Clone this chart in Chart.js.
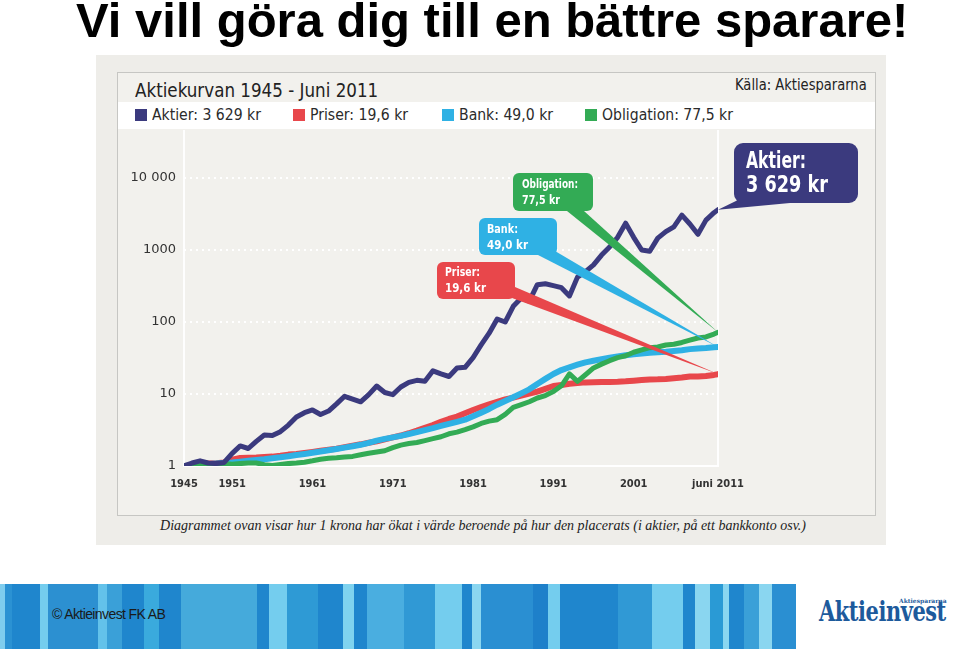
<!DOCTYPE html>
<html>
<head>
<meta charset="utf-8">
<script src="https://cdn.jsdelivr.net/npm/chart.js@4.4.1/dist/chart.umd.min.js"></script>
<style>
  body { margin:0; width:960px; height:649px; position:relative; overflow:hidden; background:#fff; font-family:"Liberation Sans", Arial, sans-serif; }
  .abs { position:absolute; white-space:nowrap; }
  .narrow { font-family:"Liberation Sans Narrow", "DejaVu Sans Condensed", sans-serif; }
  #title { left:76px; top:-4px; font-size:49px; line-height:49px; font-weight:bold; color:#000; }
  #panel { left:96px; top:55px; width:790px; height:490px; background:#eeede9; }
  #inner { left:117px; top:72px; width:757px; height:442px; border:1px solid #c6c6c3; background:#f2f1ed; }
  #legendBand { left:118px; top:102px; width:757px; height:27px; background:#fff; }
  .sq { width:12px; height:12px; top:109px; }
  .lt { top:106px; font-size:15px; line-height:18px; color:#2b2b2b; transform-origin:0 50%; transform:scaleX(1.04); }
  #head { left:135px; top:78px; font-size:20px; line-height:24px; color:#222; transform-origin:0 50%; transform:scaleX(0.93); }
  #source { right:93px; top:75px; font-size:16px; line-height:20px; color:#222; transform-origin:100% 50%; transform:scaleX(0.91); }
  #chart { left:118px; top:129px; }
  #caption { left:0; width:966px; text-align:center; top:516px; font-family:"Liberation Serif", "DejaVu Serif", serif; font-style:italic; font-size:14px; line-height:20px; color:#222; }
  #band { left:0; top:584px; width:796px; height:65px; }
  #copy { left:52px; top:605px; font-size:14px; line-height:18px; color:#1a1a1a; letter-spacing:-0.6px; }
  #logo { left:819px; top:596px; font-family:"DejaVu Serif Condensed", "DejaVu Serif", serif; font-weight:bold; font-size:27px; line-height:32px; color:#1d5a9c; letter-spacing:-0.5px; transform-origin:0 50%; transform:scaleX(0.86); }
  #logoSmall { left:899px; top:597px; font-family:"DejaVu Serif", serif; font-weight:bold; font-size:6px; line-height:8px; color:#1d5a9c; }
</style>
</head>
<body>
<div id="title" class="abs">Vi vill göra dig till en bättre sparare!</div>
<div id="panel" class="abs"></div>
<div id="inner" class="abs"></div>
<div id="legendBand" class="abs"></div>
<div id="head" class="abs narrow">Aktiekurvan 1945 - Juni 2011</div>
<div id="source" class="abs narrow">Källa: Aktiespararna</div>
<div id="legend"></div>
<canvas id="chart" class="abs" width="757" height="371"></canvas>
<div id="caption" class="abs">Diagrammet ovan visar hur 1 krona har ökat i värde beroende på hur den placerats (i aktier, på ett bankkonto osv.)</div>
<div id="band" class="abs"></div>
<div id="copy" class="abs">© Aktieinvest FK AB</div>
<div id="logo" class="abs">Aktieinvest</div>
<div id="logoSmall" class="abs">Aktiespararna</div>
<script>
// years (last point is june 2011)
var years = [1945,1946,1947,1948,1949,1950,1951,1952,1953,1954,1955,1956,1957,1958,1959,1960,1961,1962,1963,1964,
  1965,1966,1967,1968,1969,1970,1971,1972,1973,1974,1975,1976,1977,1978,1979,1980,1981,1982,1983,1984,
  1985,1986,1987,1988,1989,1990,1991,1992,1993,1994,1995,1996,1997,1998,1999,2000,2001,2002,2003,2004,
  2005,2006,2007,2008,2009,2010,2011,2011.5];

var aktier = [1.0,1.1,1.18,1.1,1.08,1.12,1.5,1.9,1.75,2.2,2.7,2.65,3.0,3.7,4.8,5.5,6.0,5.2,5.8,7.3,
  9.3,8.5,7.8,9.8,12.9,10.5,9.8,12.5,14.5,15.5,15,21,19,17.5,23,23.5,32,48,70,110,
  100,165,215,195,330,340,320,300,230,420,500,620,850,1100,1500,2360,1500,1000,960,1460,
  1800,2100,3050,2300,1650,2600,3300,3629];

var priser = [1.0,1.02,1.05,1.08,1.09,1.12,1.22,1.29,1.30,1.31,1.33,1.35,1.39,1.44,1.47,1.52,1.57,1.63,1.68,1.74,
  1.83,1.92,2.0,2.1,2.2,2.35,2.5,2.65,2.85,3.1,3.4,3.7,4.1,4.5,4.85,5.4,6.0,6.6,7.2,7.8,
  8.4,8.9,9.5,10.1,10.8,11.8,12.9,13.3,13.9,14.2,14.5,14.6,14.7,14.7,14.8,15.0,15.3,15.6,15.9,16.0,
  16.2,16.5,16.9,17.5,17.5,17.8,18.4,18.9];

var bank = [1.0,1.02,1.04,1.06,1.08,1.10,1.12,1.15,1.18,1.21,1.24,1.28,1.32,1.37,1.42,1.47,1.53,1.59,1.65,1.72,
  1.80,1.88,1.97,2.1,2.25,2.38,2.5,2.62,2.78,2.95,3.15,3.35,3.6,3.85,4.1,4.4,4.9,5.5,6.2,7.1,
  8.0,9.0,10.2,11.6,13.8,16.2,19.0,21.5,23.5,25.5,27.5,29,30.5,32,33.3,34.5,35.5,36.5,37.5,38,
  38.6,39.5,40.5,42,43,43.5,44.5,45];

var obligation = [1.0,1.02,1.04,1.06,1.07,1.08,1.06,1.08,1.1,1.1,1.04,1.02,1.05,1.08,1.1,1.13,1.18,1.24,1.28,1.3,
  1.33,1.36,1.43,1.5,1.56,1.63,1.8,1.95,2.05,2.12,2.25,2.4,2.55,2.8,2.95,3.2,3.5,3.9,4.2,4.4,
  5.2,6.5,7.1,7.8,8.8,9.5,10.8,13.0,19.0,15.0,18.5,23,26,29,32,34,38,41,44,45,
  48,49,52,56,60,62,68,72];

var seriesNames = ['Aktier', 'Obligation', 'Bank', 'Priser'];
var seriesEnd = ['3 629 kr', '77,5 kr', '49,0 kr', '19,6 kr'];
var seriesColors = ['#3b3a7e', '#33ab55', '#2fb1e4', '#e8474b'];

var tickYears = [1945, 1951, 1961, 1971, 1981, 1991, 2001, 2011.5];
var tickLabels = ['1945', '1951', '1961', '1971', '1981', '1991', '2001', 'juni 2011'];
var yTicks = [1, 10, 100, 1000, 10000];
var yTickLabels = ['1', '10', '100', '1000', '10 000'];

// legend (html, same order as in the picture)
var legendOrder = [0, 3, 2, 1];
var legendX = [135, 293, 442, 585];
var legendHtml = '';
for (var i = 0; i < legendOrder.length; i++) {
  var k = legendOrder[i];
  legendHtml += '<div class="abs sq" style="left:' + legendX[i] + 'px;background:' + seriesColors[k] + '"></div>';
  legendHtml += '<div class="abs lt narrow" style="left:' + (legendX[i] + 17) + 'px">' + seriesNames[k] + ': ' + seriesEnd[k] + '</div>';
}
document.getElementById('legend').innerHTML = legendHtml;

// stripes in the footer
var stripes = [[0,'#7fcdee'],[5,'#2b92d3'],[12,'#1f86cd'],[40,'#74cdee'],[48,'#2c90d1'],[98,'#63c2ea'],[107,'#3aa0d8'],
  [122,'#1f86cd'],[144,'#3aaadd'],[159,'#1f86cd'],[181,'#45aadb'],[257,'#1f86cd'],[269,'#74cdee'],[287,'#2e9ad5'],
  [318,'#1f86cd'],[343,'#7fd3ef'],[354,'#1f86cd'],[367,'#4aaee0'],[404,'#3099d5'],[435,'#74cdee'],[462,'#1f86cd'],
  [472,'#8ad6f0'],[481,'#2a8fd2'],[533,'#1e80ca'],[548,'#74cdee'],[560,'#1f86cd'],[618,'#3099d5'],[652,'#74cdee'],
  [683,'#1f86cd'],[695,'#8ad6f0'],[710,'#2a9ad5'],[723,'#8ad6f0'],[729,'#1f86cd'],[744,'#3aa0d8'],[759,'#8ad6f0'],
  [772,'#2a8fd2'],[796,'']];
var g = [];
for (var s = 0; s < stripes.length - 1; s++) {
  g.push(stripes[s][1] + ' ' + stripes[s][0] + 'px ' + stripes[s + 1][0] + 'px');
}
document.getElementById('band').style.background = 'linear-gradient(90deg,' + g.join(',') + ')';

function points(vals) {
  return vals.map(function (v, i) { return {x: years[i], y: v}; });
}

// speech bubbles, canvas pixels
var bubbles = [
  {s: 0, box: [616, 14, 124, 60], r: 9, font: 23, tx: 12, lines: [33, 57], widths: [60, 82], base: [[622, 70], [672, 74]]},
  {s: 1, box: [395, 44, 80, 38], r: 6, font: 13, tx: 9, lines: [56, 72], widths: [56, 38], base: [[449, 82], [466, 82]]},
  {s: 2, box: [361, 89, 78, 37], r: 6, font: 13, tx: 8, lines: [101, 117], widths: [31, 41], base: [[420, 126], [437, 122]]},
  {s: 3, box: [319, 133, 78, 37], r: 6, font: 13, tx: 8, lines: [144, 160], widths: [35, 41], base: [[397, 158], [394, 169]]}
];

function roundRect(ctx, x, y, w, h, r) {
  ctx.beginPath();
  ctx.moveTo(x + r, y);
  ctx.arcTo(x + w, y, x + w, y + h, r);
  ctx.arcTo(x + w, y + h, x, y + h, r);
  ctx.arcTo(x, y + h, x, y, r);
  ctx.arcTo(x, y, x + w, y, r);
  ctx.closePath();
}

var framePlugin = {
  id: 'frame',
  beforeDatasetsDraw: function (chart) {
    var ctx = chart.ctx, xs = chart.scales.x, a = chart.chartArea;
    ctx.save();
    ctx.strokeStyle = 'rgba(255,255,255,0.9)';
    ctx.lineWidth = 2;
    [xs.min, xs.max].forEach(function (v) {
      var px = xs.getPixelForValue(v);
      ctx.beginPath();
      ctx.moveTo(px, 1);
      ctx.lineTo(px, a.bottom);
      ctx.stroke();
    });
    ctx.restore();
  },
  afterDatasetsDraw: function (chart) {
    var ctx = chart.ctx, xs = chart.scales.x, ys = chart.scales.y;
    ctx.save();
    bubbles.forEach(function (b) {
      var data = chart.data.datasets[b.s].data;
      var last = data[data.length - 1];
      var tipX = xs.getPixelForValue(last.x), tipY = ys.getPixelForValue(last.y);
      ctx.fillStyle = seriesColors[b.s];
      ctx.beginPath();
      ctx.moveTo(b.base[0][0], b.base[0][1]);
      ctx.lineTo(b.base[1][0], b.base[1][1]);
      ctx.lineTo(tipX, tipY);
      ctx.closePath();
      ctx.fill();
      roundRect(ctx, b.box[0], b.box[1], b.box[2], b.box[3], b.r);
      ctx.fill();
      ctx.fillStyle = '#ffffff';
      ctx.font = 'bold ' + b.font + 'px "Liberation Sans Narrow", "DejaVu Sans Condensed", sans-serif';
      ctx.textBaseline = 'middle';
      ctx.textAlign = 'left';
      ctx.fillText(seriesNames[b.s] + ':', b.box[0] + b.tx, b.lines[0], b.widths[0]);
      ctx.fillText(seriesEnd[b.s], b.box[0] + b.tx, b.lines[1], b.widths[1]);
    });
    ctx.restore();
  }
};

var ctx = document.getElementById('chart');
var myChart = new Chart(ctx, {
  type: 'line',
  data: {
    datasets: [
      {label: seriesNames[0], data: points(aktier), borderColor: seriesColors[0], borderWidth: 5},
      {label: seriesNames[1], data: points(obligation), borderColor: seriesColors[1], borderWidth: 5},
      {label: seriesNames[2], data: points(bank), borderColor: seriesColors[2], borderWidth: 6},
      {label: seriesNames[3], data: points(priser), borderColor: seriesColors[3], borderWidth: 6}
    ]
  },
  options: {
    responsive: false,
    animation: false,
    events: [],
    layout: {padding: {top: 49, right: 157, bottom: 4, left: 0}},
    elements: {
      point: {radius: 0},
      line: {tension: 0, borderCapStyle: 'round', borderJoinStyle: 'round'}
    },
    plugins: {legend: {display: false}, tooltip: {enabled: false}},
    scales: {
      x: {
        type: 'linear',
        min: 1945,
        max: 2011.5,
        afterFit: function (scale) { scale.height = 30; },
        afterBuildTicks: function (scale) {
          scale.ticks = tickYears.map(function (v) { return {value: v}; });
        },
        ticks: {
          autoSkip: false,
          maxRotation: 0,
          padding: 12,
          color: '#333',
          font: {family: '"DejaVu Sans Condensed", "DejaVu Sans", sans-serif', size: 11, weight: 'bold'},
          callback: function (v, i) { return tickLabels[i]; }
        },
        grid: {display: false, drawTicks: false},
        border: {display: true, color: '#ffffff', width: 2}
      },
      y: {
        type: 'logarithmic',
        min: 1,
        max: 10000,
        afterFit: function (scale) { scale.width = 66; },
        afterBuildTicks: function (scale) {
          scale.ticks = yTicks.map(function (v) { return {value: v}; });
        },
        ticks: {
          padding: 8,
          color: '#333',
          font: {family: '"DejaVu Sans", sans-serif', size: 13},
          callback: function (v, i) { return yTickLabels[i]; }
        },
        grid: {
          drawTicks: false,
          lineWidth: 2,
          color: function (c) { return (c.tick && c.tick.value === 1) ? 'rgba(0,0,0,0)' : '#ffffff'; }
        },
        border: {display: false, dash: [2, 4]}
      }
    }
  },
  plugins: [framePlugin]
});
</script>
</body>
</html>
